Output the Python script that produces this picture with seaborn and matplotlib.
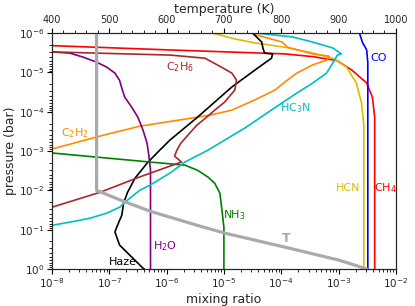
import numpy as np
import seaborn as sns
import matplotlib
matplotlib.use("Agg")
import matplotlib.pyplot as plt
from matplotlib.ticker import MultipleLocator

# profiles, log10(mixing ratio) vs log10(pressure / bar)
ch4_x = [-9.0, -8.0, -5.94, -3.94, -3.45, -3.03, -2.77, -2.51, -2.41, -2.37, -2.37]
ch4_p = [-5.72, -5.68, -5.57, -5.47, -5.40, -5.30, -5.06, -4.73, -4.37, -3.86, 0.0]

co_x = [-2.65, -2.63, -2.58, -2.51, -2.49, -2.49]
co_p = [-6.2, -5.97, -5.75, -5.57, -5.24, 0.0]

hcn_x = [-5.4, -5.20, -4.81, -4.46, -3.94, -3.45, -3.10, -2.86, -2.69, -2.60, -2.56, -2.56]
hcn_p = [-6.1, -6.0, -5.85, -5.75, -5.64, -5.49, -5.36, -5.13, -4.73, -4.22, -3.66, 0.0]

c2h2_x = [-9.0, -8.0, -7.16, -6.47, -5.77, -5.25, -4.86, -4.46, -4.11, -3.94, -3.73,
          -3.45, -3.21, -3.16, -3.45, -3.89, -3.98, -4.43, -4.6]
c2h2_p = [-2.65, -3.05, -3.38, -3.63, -3.79, -3.91, -4.04, -4.30, -4.55, -4.75, -4.98,
          -5.19, -5.31, -5.41, -5.47, -5.64, -5.77, -5.95, -6.05]

haze_x = [-6.39, -6.41, -6.55, -6.82, -6.90, -6.87, -6.78, -6.75, -6.68, -6.55, -6.34,
          -6.12, -5.94, -5.46, -4.86, -4.41, -4.17, -4.15, -4.29, -4.32, -4.34, -4.43, -4.50]
haze_p = [0.0, -0.02, -0.22, -0.61, -0.94, -1.06, -1.37, -1.67, -1.95, -2.31, -2.69,
          -3.02, -3.28, -3.86, -4.63, -5.11, -5.36, -5.47, -5.49, -5.62, -5.77, -5.90, -6.0]

h2o_x = [-9.0, -8.0, -7.69, -7.46, -7.22, -7.04, -6.90, -6.82, -6.78, -6.73, -6.61,
         -6.50, -6.41, -6.34, -6.31, -6.28, -6.28]
h2o_p = [-5.54, -5.52, -5.49, -5.39, -5.26, -5.13, -4.98, -4.80, -4.60, -4.37, -4.12,
         -3.86, -3.53, -3.20, -2.90, -2.51, 0.0]

nh3_x = [-9.0, -8.0, -6.29, -5.68, -5.46, -5.28, -5.16, -5.07, -5.04, -5.00, -5.00]
nh3_p = [-3.08, -2.95, -2.72, -2.64, -2.51, -2.34, -2.18, -1.93, -1.57, -1.06, 0.0]

c2h6_x = [-9.0, -8.0, -5.94, -5.33, -5.04, -4.86, -4.78, -4.81, -4.99, -5.16, -5.30,
          -5.47, -5.63, -5.75, -5.82, -5.86, -5.74, -6.47, -7.16, -8.0, -9.0]
c2h6_p = [-5.54, -5.52, -5.44, -5.36, -5.13, -4.98, -4.80, -4.55, -4.24, -4.04, -3.86,
          -3.66, -3.40, -3.20, -3.02, -2.87, -2.72, -2.34, -1.95, -1.57, -1.12]

hc3n_x = [-9.0, -8.0, -7.69, -7.34, -7.04, -6.82, -6.64, -6.47, -6.29, -5.94, -5.68,
          -5.28, -4.64, -3.99, -3.73, -3.45, -3.21, -3.10, -3.02, -2.95, -3.10, -3.45,
          -3.80, -4.43, -4.7]
hc3n_p = [-0.86, -1.11, -1.19, -1.29, -1.42, -1.57, -1.80, -2.0, -2.13, -2.44, -2.72,
          -3.02, -3.58, -4.22, -4.47, -4.73, -4.98, -5.24, -5.44, -5.47, -5.62, -5.77,
          -5.90, -6.0, -6.05]

# temperature profile (K) on the top axis
temp_K = [478, 478, 520, 571, 658, 702, 808, 902, 949]
temp_p = [-6.0, -2.0, -1.75, -1.47, -1.09, -0.91, -0.55, -0.22, 0.0]

sns.set_style("ticks")
plt.rcParams["font.family"] = ["DejaVu Sans"]

fig, ax = plt.subplots(figsize=(4.15, 3.06), dpi=100)
fig.subplots_adjust(left=0.125, right=0.954, bottom=0.121, top=0.892)

species = [
    (ch4_x, ch4_p, "red"),
    (co_x, co_p, "blue"),
    (hcn_x, hcn_p, "#dcbc00"),
    (c2h2_x, c2h2_p, "darkorange"),
    (haze_x, haze_p, "black"),
    (h2o_x, h2o_p, "purple"),
    (nh3_x, nh3_p, "green"),
    (c2h6_x, c2h6_p, "brown"),
    (hc3n_x, hc3n_p, "c"),
]
for xs, ps, col in species:
    sns.lineplot(x=10 ** np.array(xs), y=10 ** np.array(ps), sort=False,
                 estimator=None, color=col, lw=1.2, ax=ax)

ax.set_xscale("log")
ax.set_yscale("log")
ax.set_xlim(1e-8, 1e-2)
ax.set_ylim(1, 1e-6)
ax.set_xlabel("mixing ratio", fontsize=9, labelpad=2)
ax.set_ylabel("pressure (bar)", fontsize=9, labelpad=1)
ax.tick_params(which="major", length=3.5, width=0.8, pad=2, labelsize=7.5, color="k")
ax.tick_params(which="minor", length=2, width=0.6, color="k")
for s in ax.spines.values():
    s.set_color("k")

labels = [
    ("C$_2$H$_6$", -5.77, -5.13, "brown", "center"),
    ("C$_2$H$_2$", -7.60, -3.46, "darkorange", "center"),
    ("HC$_3$N", -3.75, -4.09, "c", "center"),
    ("CO", -2.30, -5.36, "blue", "center"),
    ("HCN", -2.62, -2.06, "#dcbc00", "right"),
    ("CH$_4$", -2.38, -2.06, "red", "left"),
    ("NH$_3$", -4.81, -1.37, "green", "center"),
    ("H$_2$O", -6.03, -0.58, "purple", "center"),
    ("Haze", -6.76, -0.17, "black", "center"),
]
for txt, lx, lp, col, ha in labels:
    ax.text(10 ** lx, 10 ** lp, txt, color=col, fontsize=8, ha=ha, va="center")

ax2 = ax.twiny()
sns.lineplot(x=temp_K, y=10 ** np.array(temp_p), sort=False, estimator=None,
             color="#aaaaaa", lw=2.3, ax=ax2)
ax2.set_xlim(400, 1000)
ax2.set_ylim(1, 1e-6)
ax2.xaxis.set_major_locator(MultipleLocator(100))
ax2.xaxis.set_minor_locator(MultipleLocator(20))
ax2.tick_params(which="major", length=3.5, width=0.8, pad=2, labelsize=7, color="k")
ax2.tick_params(which="minor", length=2, width=0.6, color="k")
ax2.set_xlabel("temperature (K)", fontsize=9, labelpad=2)
ax2.text(808, 10 ** -0.78, "T", color="#aaaaaa", fontsize=9, fontweight="bold",
         ha="center", va="center")

plt.savefig("out.png", dpi=100)
